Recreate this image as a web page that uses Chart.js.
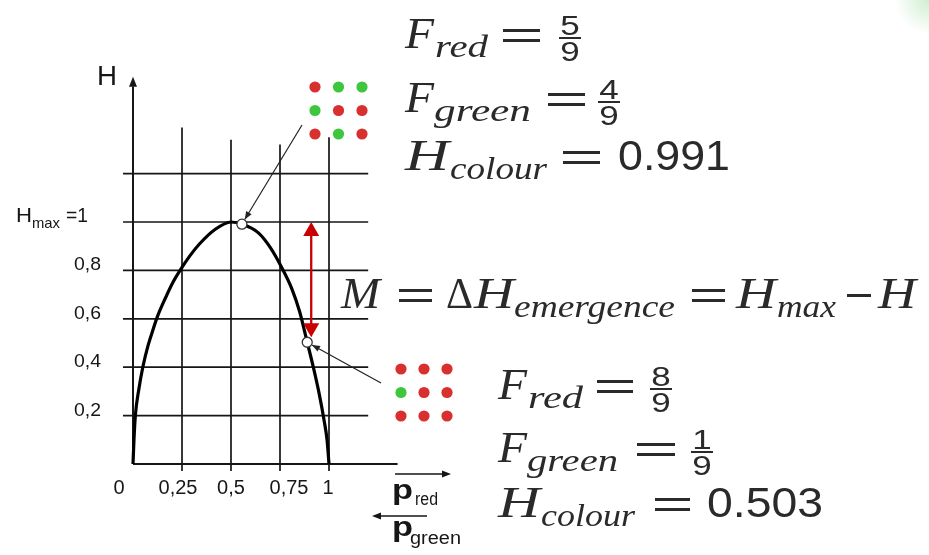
<!DOCTYPE html>
<html>
<head>
<meta charset="utf-8">
<title>Colour entropy and emergence</title>
<script src="https://cdn.jsdelivr.net/npm/chart.js@4.4.1/dist/chart.umd.min.js"></script>
<style>
  html, body { margin: 0; padding: 0; background: #ffffff; }
  canvas { display: block; }
</style>
</head>
<body>
<canvas id="c" width="929" height="555"></canvas>
<script>
// Entropy H of a two-colour pattern against the share of red cells
const curveP = [0, 0.005, 0.012, 0.03, 0.05, 0.077, 0.10, 0.125, 0.165, 0.20, 0.24, 0.29, 0.34, 0.42, 0.50,
                0.56, 0.64, 0.70, 0.76, 0.81, 0.85, 0.889, 0.92, 0.95, 0.975, 0.99, 1];
const curveH = [0, 0.10, 0.20, 0.31, 0.40, 0.49, 0.55, 0.61, 0.685, 0.745, 0.80, 0.86, 0.91, 0.97, 1.0,
                0.99, 0.955, 0.895, 0.81, 0.725, 0.63, 0.503, 0.40, 0.29, 0.18, 0.10, 0];

// The two 3x3 example patterns
const dotsPerPattern = 9;
const sampleRed = [5, 8];
const sampleGreen = [4, 1];
const sampleH = [0.991, 0.503];
const sampleP = sampleRed.map(r => r / dotsPerPattern);
const samplePatterns = [
  ['r', 'g', 'g', 'g', 'r', 'r', 'r', 'g', 'r'],
  ['r', 'r', 'r', 'g', 'r', 'r', 'r', 'r', 'r']
];
const hMax = 1;

// Axis ticks and grid
const xTicks = [0, 0.25, 0.5, 0.75, 1];
const xTickLabels = ['0', '0,25', '0,5', '0,75', '1'];
const yTicks = [0.2, 0.4, 0.6, 0.8];
const yTickLabels = ['0,2', '0,4', '0,6', '0,8'];
const gridX = [0.25, 0.5, 0.75, 1];
const gridY = [0.2, 0.4, 0.6, 0.8, 1, 1.2];

// ---- layout / style (pixels) ----
const xTickNudge = [-14, -4, 0, 9, -1];
const gridTopH = [1.39, 1.34, 1.32, 1.35];
const RED = '#d82f2f', GREEN = '#3ec63e', INK = '#161616', MATH = '#2a2a2a', ARROW_RED = '#c80000';
const SERIF = '"Liberation Serif", "Times New Roman", serif';
const SANS = '"Liberation Sans", Arial, sans-serif';

function run(ctx, text, font, x, base, w) {
  ctx.save();
  ctx.font = font;
  ctx.textAlign = 'left';
  ctx.textBaseline = 'alphabetic';
  const m = ctx.measureText(text).width;
  ctx.translate(x, base);
  ctx.scale(w ? w / m : 1, 1);
  ctx.fillText(text, 0, 0);
  ctx.restore();
}
function runCentered(ctx, text, font, cx, base, sx) {
  ctx.save();
  ctx.font = font;
  const m = ctx.measureText(text).width * (sx || 1);
  ctx.restore();
  run(ctx, text, font, cx - m / 2, base, m);
}
function equals(ctx, x1, x2, cy) {
  ctx.fillRect(x1, cy - 6.5, x2 - x1, 3);
  ctx.fillRect(x1, cy + 3.5, x2 - x1, 3);
}
function frac(ctx, num, den, cx, bar) {
  const f = '28px ' + SANS;
  ctx.fillRect(cx - 11, bar - 1, 22, 2);
  runCentered(ctx, String(num), f, cx, bar - 3, 1.25);
  runCentered(ctx, String(den), f, cx, bar + 23, 1.25);
}
function arrowHead(ctx, x1, y1, x2, y2, len, half) {
  const a = Math.atan2(y2 - y1, x2 - x1);
  ctx.beginPath();
  ctx.moveTo(x2, y2);
  ctx.lineTo(x2 - len * Math.cos(a) + half * Math.sin(a), y2 - len * Math.sin(a) - half * Math.cos(a));
  ctx.lineTo(x2 - len * Math.cos(a) - half * Math.sin(a), y2 - len * Math.sin(a) + half * Math.cos(a));
  ctx.closePath();
  ctx.fill();
}
function dotGrid(ctx, pattern, x0, y0, dx, dy) {
  pattern.forEach((c, i) => {
    ctx.fillStyle = c === 'r' ? RED : GREEN;
    ctx.beginPath();
    ctx.arc(x0 + (i % 3) * dx, y0 + Math.floor(i / 3) * dy, 5.6, 0, Math.PI * 2);
    ctx.fill();
  });
}
// F_red, F_green and H_colour for one pattern
function sampleBlock(ctx, i, L) {
  const Fi = 'italic 44px ' + SERIF, sub = 'italic 31px ' + SERIF;
  ctx.fillStyle = MATH;
  run(ctx, 'F', Fi, L.x0, L.base[0], 29);
  run(ctx, 'red', sub, L.x0 + 30, L.base[0] + 9, L.subW[0]);
  equals(ctx, L.eq[0][0], L.eq[0][1], L.base[0] - 12.5);
  frac(ctx, sampleRed[i], dotsPerPattern, L.frac[0], L.base[0] - 10);

  run(ctx, 'F', Fi, L.x0, L.base[1], 29);
  run(ctx, 'green', sub, L.x0 + 29, L.base[1] + 9, L.subW[1]);
  equals(ctx, L.eq[1][0], L.eq[1][1], L.base[1] - 12.5);
  frac(ctx, sampleGreen[i], dotsPerPattern, L.frac[1], L.base[1] - 10);

  run(ctx, 'H', Fi, L.x0, L.base[2], L.hW);
  run(ctx, 'colour', sub, L.x0 + L.hW + 1, L.base[2] + 9, L.subW[2]);
  equals(ctx, L.eq[2][0], L.eq[2][1], L.base[2] - 12.5);
  run(ctx, sampleH[i].toFixed(3), '42px ' + SANS, L.val[0], L.base[2], L.val[1]);
}

const decor = {
  id: 'decor',
  beforeDatasetsDraw(chart) {
    const { ctx, scales: { x, y } } = chart;
    ctx.save();
    ctx.strokeStyle = INK;
    ctx.lineWidth = 1.7;
    ctx.beginPath();
    gridY.forEach(v => {
      const py = y.getPixelForValue(v);
      ctx.moveTo(x.getPixelForValue(0) - 10, py);
      ctx.lineTo(x.getPixelForValue(1.2), py);
    });
    gridX.forEach((v, i) => {
      const pxv = x.getPixelForValue(v);
      ctx.moveTo(pxv, y.getPixelForValue(0) + 7);
      ctx.lineTo(pxv, y.getPixelForValue(gridTopH[i]));
    });
    ctx.stroke();

    // axes
    ctx.lineWidth = 2;
    ctx.beginPath();
    ctx.moveTo(x.getPixelForValue(0), y.getPixelForValue(0));
    ctx.lineTo(x.getPixelForValue(1.35), y.getPixelForValue(0));
    ctx.moveTo(x.getPixelForValue(0), y.getPixelForValue(0));
    ctx.lineTo(x.getPixelForValue(0), y.getPixelForValue(1.56));
    ctx.stroke();
    ctx.fillStyle = INK;
    arrowHead(ctx, x.getPixelForValue(0), y.getPixelForValue(1.5), x.getPixelForValue(0), y.getPixelForValue(1.6), 10, 4);

    // tick labels
    ctx.fillStyle = INK;
    yTicks.forEach((v, i) => run(ctx, yTickLabels[i], '19px ' + SANS, 74, y.getPixelForValue(v), 27));
    const hy = y.getPixelForValue(hMax);
    run(ctx, 'H', '21px ' + SANS, 16, hy, 16);
    run(ctx, 'max', '15px ' + SANS, 32, hy + 6, 28);
    run(ctx, '=1', '21px ' + SANS, 66, hy, 22);
    xTicks.forEach((v, i) => runCentered(ctx, xTickLabels[i], '20px ' + SANS, x.getPixelForValue(v) + xTickNudge[i], 494, 1));
    run(ctx, 'H', '28px ' + SANS, 97, 85, 20);
    ctx.restore();
  },
  afterDatasetsDraw(chart) {
    const { ctx, scales: { x, y } } = chart;
    ctx.save();
    const m1 = { x: x.getPixelForValue(sampleP[0]), y: y.getPixelForValue(sampleH[0]) };
    const m2 = { x: x.getPixelForValue(sampleP[1]), y: y.getPixelForValue(sampleH[1]) };

    // leader lines from the patterns to their points on the curve
    ctx.strokeStyle = '#222';
    ctx.fillStyle = '#222';
    ctx.lineWidth = 1.2;
    [[302, 125, m1], [381, 383, m2]].forEach(([sx, sy, m]) => {
      const a = Math.atan2(m.y - sy, m.x - sx);
      const ex = m.x - 5.5 * Math.cos(a), ey = m.y - 5.5 * Math.sin(a);
      ctx.beginPath();
      ctx.moveTo(sx, sy);
      ctx.lineTo(ex, ey);
      ctx.stroke();
      arrowHead(ctx, sx, sy, ex, ey, 8, 3.2);
    });

    // emergence: distance from H_max down to the second pattern's H
    const ax = m2.x + 4;
    const top = y.getPixelForValue(hMax), bot = m2.y - 5;
    ctx.strokeStyle = ARROW_RED;
    ctx.fillStyle = ARROW_RED;
    ctx.lineWidth = 2.3;
    ctx.beginPath();
    ctx.moveTo(ax, top + 10);
    ctx.lineTo(ax, bot - 10);
    ctx.stroke();
    arrowHead(ctx, ax, bot, ax, top, 14, 8);
    arrowHead(ctx, ax, top, ax, bot, 14, 8);

    // example patterns
    dotGrid(ctx, samplePatterns[0], 315, 87, 23.5, 23.5);
    dotGrid(ctx, samplePatterns[1], 401, 369, 23, 23.5);

    // direction of p_red and p_green
    ctx.strokeStyle = INK;
    ctx.fillStyle = INK;
    ctx.lineWidth = 1.4;
    ctx.beginPath();
    ctx.moveTo(395, 474); ctx.lineTo(444, 474);
    ctx.moveTo(427, 516); ctx.lineTo(379, 516);
    ctx.stroke();
    arrowHead(ctx, 395, 474, 451, 474, 9, 3.5);
    arrowHead(ctx, 427, 516, 372, 516, 9, 3.5);
    run(ctx, 'p', 'bold 28px ' + SANS, 392, 499, 21);
    run(ctx, 'red', '18px ' + SANS, 415, 505, 23);
    run(ctx, 'p', 'bold 28px ' + SANS, 392, 536, 21);
    run(ctx, 'green', '18px ' + SANS, 410, 544, 51);

    // formulas
    sampleBlock(ctx, 0, {
      x0: 405, base: [48, 112, 170], subW: [53, 97, 97], hW: 44,
      eq: [[503, 540], [548, 585], [563, 600]], frac: [570, 609], val: [618, 112]
    });
    sampleBlock(ctx, 1, {
      x0: 498, base: [399, 462, 517], subW: [55, 91, 94], hW: 42,
      eq: [[597, 633], [637, 675], [655, 690]], frac: [661, 702], val: [707, 116]
    });

    const Fi = 'italic 44px ' + SERIF, sub = 'italic 31px ' + SERIF;
    const mb = 308;
    ctx.fillStyle = MATH;
    run(ctx, 'M', Fi, 341, mb, 39);
    equals(ctx, 399, 432, mb - 12.5);
    run(ctx, '\u0394', '44px ' + SERIF, 446, mb, 27);
    run(ctx, 'H', Fi, 474, mb, 40);
    run(ctx, 'emergence', sub, 514, mb + 9, 161);
    equals(ctx, 692, 725, mb - 12.5);
    run(ctx, 'H', Fi, 736, mb, 40);
    run(ctx, 'max', sub, 777, mb + 9, 59);
    ctx.fillRect(847, mb - 14, 24, 3);
    run(ctx, 'H', Fi, 878, mb, 38);

    // faint green tint in the top right corner
    const g = ctx.createRadialGradient(929, 0, 0, 929, 0, 34);
    g.addColorStop(0, 'rgba(120,205,120,0.35)');
    g.addColorStop(1, 'rgba(120,205,120,0)');
    ctx.fillStyle = g;
    ctx.fillRect(890, 0, 39, 40);
    ctx.restore();
  }
};

new Chart(document.getElementById('c'), {
  type: 'scatter',
  data: {
    datasets: [
      {
        data: curveP.map((p, i) => ({ x: p, y: curveH[i] })),
        showLine: true,
        borderColor: '#000000',
        borderWidth: 3.2,
        pointRadius: 0,
        cubicInterpolationMode: 'monotone',
        clip: false,
        order: 2
      },
      {
        data: sampleP.map((p, i) => ({ x: p, y: sampleH[i] })),
        showLine: false,
        pointRadius: 5,
        pointBackgroundColor: '#ffffff',
        pointBorderColor: '#333333',
        pointBorderWidth: 1.3,
        clip: false,
        order: 1
      }
    ]
  },
  options: {
    responsive: false,
    animation: false,
    events: [],
    layout: { padding: { left: 133, right: 600, top: 222, bottom: 91 } },
    scales: {
      x: { type: 'linear', min: 0, max: 1, display: false },
      y: { type: 'linear', min: 0, max: 1, display: false }
    },
    plugins: { legend: { display: false }, tooltip: { enabled: false } }
  },
  plugins: [decor]
});
</script>
</body>
</html>
